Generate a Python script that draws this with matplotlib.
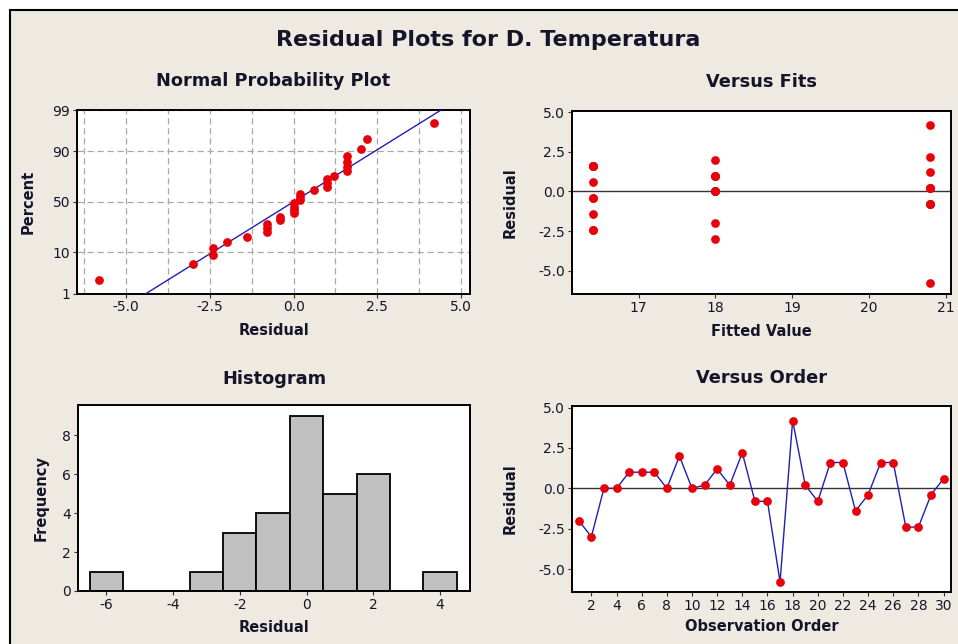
import numpy as np
import matplotlib
matplotlib.use("Agg")
import matplotlib.pyplot as plt
from matplotlib.patches import Rectangle
from statistics import NormalDist

# residuals in observation order
residuals = [-2.0, -3.0, 0.0, 0.0, 1.0, 1.0, 1.0, 0.0, 2.0, 0.0,
             0.2, 1.2, 0.2, 2.2, -0.8, -0.8, -5.8, 4.2, 0.2, -0.8,
             1.6, 1.6, -1.4, -0.4, 1.6, 1.6, -2.4, -2.4, -0.4, 0.6]
fitted = [18.0] * 10 + [20.8] * 10 + [16.4] * 10
order = list(range(1, 31))
pct_ticks = [1, 10, 50, 90, 99]
hist_edges = [-6.5, -5.5, -4.5, -3.5, -2.5, -1.5, -0.5, 0.5, 1.5, 2.5, 3.5, 4.5]

plt.rcParams['font.family'] = 'DejaVu Sans'
plt.rcParams['axes.unicode_minus'] = False

BEIGE = '#EEEAE1'
RED = '#E8000B'
BLUE = '#1F1FB4'
TXT = '#15152A'
W, H = 958, 644

fig = plt.figure(figsize=(W / 100, H / 100), dpi=100)
fig.patch.set_facecolor('white')
fig.patches.append(Rectangle((10 / W, -0.1), 1.2, 1.1 - 10 / H, transform=fig.transFigure,
                             facecolor=BEIGE, edgecolor='black', linewidth=1.5, zorder=-10))


def px_axes(left, top, right, bottom):
    return fig.add_axes([left / W, 1 - bottom / H, (right - left) / W, (bottom - top) / H])


def style(ax, title, xlabel, ylabel, ylabelpad, xlabelpad=6, titlepad=17):
    ax.set_facecolor('white')
    for s in ax.spines.values():
        s.set_linewidth(1.4)
        s.set_color('black')
    ax.tick_params(direction='out', length=3, width=0.8, labelsize=10, colors='#333333',
                   labelcolor=TXT, pad=2)
    ax.set_title(title, fontsize=12.8, fontweight='bold', color=TXT, pad=titlepad)
    ax.set_xlabel(xlabel, fontsize=10.5, fontweight='bold', color=TXT, labelpad=xlabelpad)
    ax.set_ylabel(ylabel, fontsize=10.5, fontweight='bold', color=TXT, labelpad=ylabelpad)


fig.text(0.51, 0.938, 'Residual Plots for D. Temperatura', ha='center', va='center',
         fontsize=16, fontweight='bold', color=TXT)

MS = 6.3

# Normal probability plot
nd = NormalDist()
ax1 = px_axes(77, 110, 470, 293.5)
res_sorted = np.sort(residuals)
n = len(res_sorted)
z_pts = [nd.inv_cdf((i - 0.3) / (n + 0.4)) for i in range(1, n + 1)]
mu = np.mean(residuals)
sd = np.std(residuals, ddof=1)
z_lo, z_hi = nd.inv_cdf(0.01), nd.inv_cdf(0.99)
ax1.plot([mu + z_lo * sd, mu + z_hi * sd], [z_lo, z_hi], color=BLUE, lw=1, zorder=3)
ax1.plot(res_sorted, z_pts, 'o', color=RED, ms=MS, mew=0, zorder=4)
ax1.set_xlim(-6.47, 5.27)
ax1.set_ylim(z_lo, z_hi)
ax1.set_xticks([-5.0, -2.5, 0.0, 2.5, 5.0])
ax1.set_xticklabels(['-5.0', '-2.5', '0.0', '2.5', '5.0'])
ax1.set_xticks(np.arange(-6.25, 5.3, 1.25), minor=True)
ax1.tick_params(axis='x', which='minor', length=0)
ax1.set_yticks([nd.inv_cdf(p / 100) for p in pct_ticks])
ax1.set_yticklabels([str(p) for p in pct_ticks])
ax1.grid(True, which='both', color='#A8A8A8', linestyle=(0, (5, 3)), linewidth=0.9)
ax1.set_axisbelow(True)
style(ax1, 'Normal Probability Plot', 'Residual', 'Percent', 12)

# Versus fits
ax2 = px_axes(572, 111, 951, 294.3)
ax2.axhline(0, color='#333333', lw=1, zorder=2)
ax2.plot(fitted, residuals, 'o', color=RED, ms=MS, mew=0, zorder=3)
ax2.set_xlim(16.13, 21.07)
ax2.set_ylim(-6.49, 5.08)
ax2.set_xticks([17, 18, 19, 20, 21])
ax2.set_yticks([-5.0, -2.5, 0.0, 2.5, 5.0])
ax2.set_yticklabels(['-5.0', '-2.5', '0.0', '2.5', '5.0'])
style(ax2, 'Versus Fits', 'Fitted Value', 'Residual', 15)

# Histogram
ax3 = px_axes(78, 405, 470, 591)
ax3.hist(residuals, bins=hist_edges, color='#C0C0C0', edgecolor='black', linewidth=1.3)
ax3.set_xlim(-6.85, 4.9)
ax3.set_ylim(0, 9.54)
ax3.set_xticks([-6, -4, -2, 0, 2, 4])
ax3.set_yticks([0, 2, 4, 6, 8])
style(ax3, 'Histogram', 'Residual', 'Frequency', 10, xlabelpad=6, titlepad=15)

# Versus order
ax4 = px_axes(572, 405.7, 951, 592.3)
ax4.axhline(0, color='#333333', lw=1, zorder=2)
ax4.plot(order, residuals, '-', color=BLUE, lw=1, zorder=3)
ax4.plot(order, residuals, 'o', color=RED, ms=MS, mew=0, zorder=4)
ax4.set_xlim(0.46, 30.59)
ax4.set_ylim(-6.44, 5.12)
ax4.set_xticks(range(2, 31, 2))
ax4.set_yticks([-5.0, -2.5, 0.0, 2.5, 5.0])
ax4.set_yticklabels(['-5.0', '-2.5', '0.0', '2.5', '5.0'])
style(ax4, 'Versus Order', 'Observation Order', 'Residual', 15, xlabelpad=4, titlepad=16)

fig.savefig('out.png', dpi=100, facecolor=fig.get_facecolor())
